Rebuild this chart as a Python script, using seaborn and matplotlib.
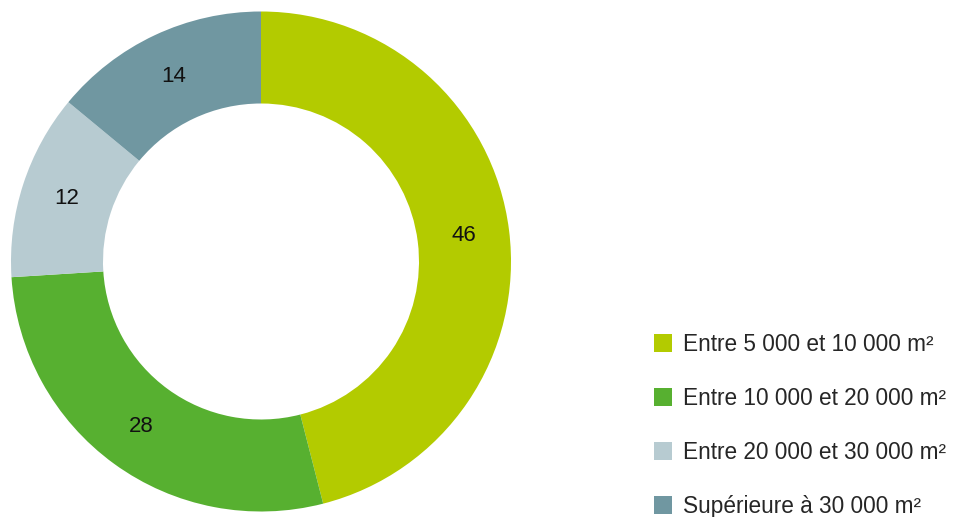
import matplotlib
matplotlib.use('Agg')
import matplotlib.pyplot as plt
import matplotlib.patches as mpatches
import numpy as np
import seaborn as sns

sns.set_theme(style='white')
plt.rcParams['font.family'] = ['Liberation Sans', 'DejaVu Sans']

categories = ['Entre 5 000 et 10 000 m²', 'Entre 10 000 et 20 000 m²',
              'Entre 20 000 et 30 000 m²', 'Supérieure à 30 000 m²']
values = [46, 28, 12, 14]
colors = ['#b3cb00', '#57b030', '#b7cbd1', '#7097a1']

fig = plt.figure(figsize=(9.66, 5.17), dpi=100)
ax = fig.add_axes([11 / 966, 5.5 / 517, 500 / 966, 500 / 517])

wedges, _ = ax.pie(values, colors=colors, startangle=90, counterclock=False,
                   radius=1.0, wedgeprops=dict(width=0.368, edgecolor='none'))
ax.set_xlim(-1, 1)
ax.set_ylim(-1, 1)
ax.set_aspect('equal')

# value labels in the middle of the ring
cum = np.cumsum([0] + values)
total = sum(values)
for i, v in enumerate(values):
    mid = np.deg2rad(90 - 360 * (cum[i] + v / 2) / total)
    r = 0.816
    ax.text(r * np.cos(mid), r * np.sin(mid), str(v), ha='center', va='center',
            fontsize=16, color='#111111')

handles = [mpatches.Patch(facecolor=c, edgecolor='none', label=l)
           for c, l in zip(colors, categories)]
fig.legend(handles=handles, loc='lower left', bbox_to_anchor=(654 / 966, -1 / 517),
           frameon=False, fontsize=16.3, handlelength=0.8, handleheight=0.8,
           handletextpad=0.5, labelspacing=1.37, borderaxespad=0, borderpad=0)

plt.savefig('out.png', dpi=100)
plt.close()
